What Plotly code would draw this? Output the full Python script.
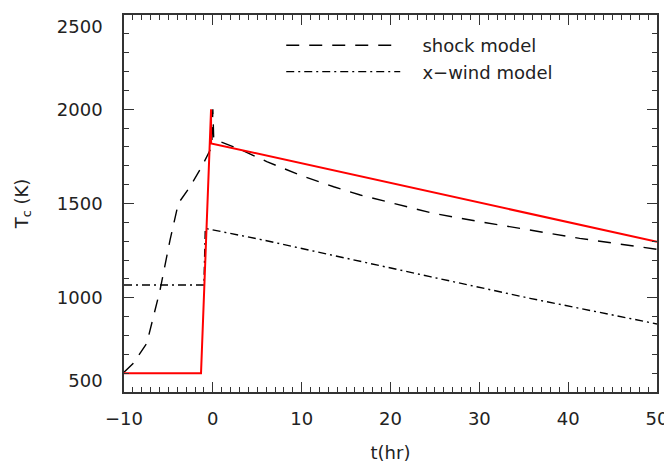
import plotly.graph_objects as go

# Data
shock_t = [-10, -9.5, -8.95, -7.44, -5.94, -4.82, -3.88, -2.57, -1.25, -0.12, 0.0, 0.1,
           0.81, 3.06, 6.07, 9.8, 13.6, 16.6, 21.1, 24.8, 30.1, 35.7, 41.3, 50]
shock_T = [605, 625, 652, 758, 1041, 1306, 1501, 1589, 1695, 1801, 2000, 1842,
           1828, 1788, 1722, 1651, 1589, 1545, 1492, 1448, 1403, 1359, 1315, 1257]

wind_t = [-10, -1.0, -0.85, 5.3, 24.45, 35.7, 50]
wind_T = [1068, 1068, 1368, 1310, 1112, 997, 861]

red_t = [-10, -1.33, -0.2, -0.2, 50]
red_T = [600, 600, 2000, 1819, 1297]

x_ticks = [-10, 0, 10, 20, 30, 40, 50]
x_labels = ["\u221210", "0", "10", "20", "30", "40", "50"]
y_ticks = [500, 1000, 1500, 2000, 2500]
# end labels nudged inward like in the reference
y_labels = ["500<br>\u00a0", "1000", "1500", "2000", "<br>2500"]

FONT = "DejaVu Sans"
TXT = "#222222"
AX = "#333333"

fig = go.Figure()
fig.add_trace(go.Scatter(x=shock_t, y=shock_T, mode="lines",
                         name="\u00a0\u00a0\u00a0shock model",
                         line=dict(color="black", width=1.4, dash="13px,10px")))
fig.add_trace(go.Scatter(x=wind_t, y=wind_T, mode="lines",
                         name="\u00a0\u00a0\u00a0x\u2212wind model",
                         line=dict(color="black", width=1.4, dash="8px,4px,2px,4px")))
fig.add_trace(go.Scatter(x=red_t, y=red_T, mode="lines", showlegend=False,
                         line=dict(color="#ff0000", width=2)))

axis_common = dict(
    showline=True, linecolor=AX, linewidth=1.5, mirror="ticks",
    ticks="inside", ticklen=10, tickwidth=1.2, tickcolor=AX,
    showgrid=False, zeroline=False, automargin=False,
    ticklabeloverflow="allow",
    tickfont=dict(family=FONT, size=18, color=TXT),
)

# The page body adds an 8px offset; the figure size/margins compensate for it.
fig.update_layout(
    width=664, height=456,
    margin=dict(l=116, r=15, t=7, b=72),
    paper_bgcolor="white", plot_bgcolor="white",
    showlegend=True,
    legend=dict(x=0.295, y=0.968, xanchor="left", yanchor="top",
                bgcolor="rgba(0,0,0,0)", itemwidth=114,
                font=dict(family=FONT, size=18, color=TXT),
                tracegroupgap=0),
    xaxis=dict(range=[-10, 50], tickvals=x_ticks, ticktext=x_labels,
               minor=dict(dtick=1, ticks="inside", ticklen=5, tickcolor=AX, tickwidth=1),
               ticklabelstandoff=10,
               title=dict(text="t(hr)", font=dict(family=FONT, size=18, color=TXT), standoff=18),
               **axis_common),
    yaxis=dict(range=[500, 2500], tickvals=y_ticks, ticktext=y_labels,
               minor=dict(dtick=100, ticks="inside", ticklen=5, tickcolor=AX, tickwidth=1),
               ticklabelstandoff=16,
               title=dict(text="T<sub>c</sub> (K)", font=dict(family=FONT, size=18, color=TXT), standoff=24),
               **axis_common),
)

fig.write_html("out.html")
